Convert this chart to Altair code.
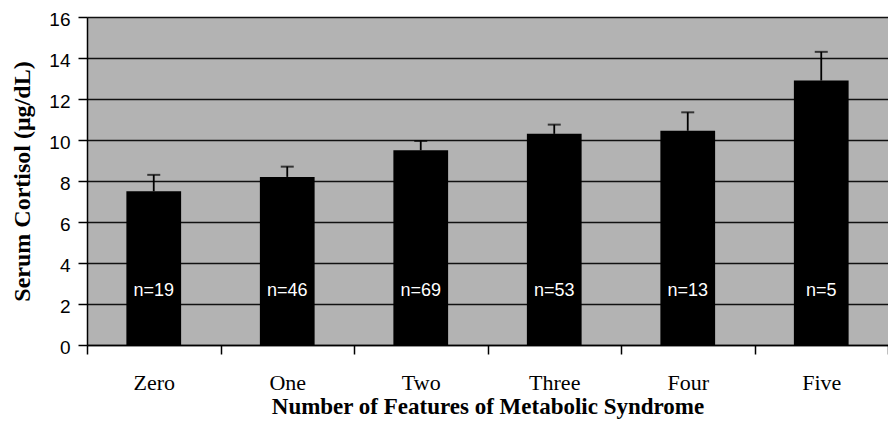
import altair as alt
import pandas as pd

categories = ["Zero", "One", "Two", "Three", "Four", "Five"]
means = [7.5, 8.2, 9.5, 10.3, 10.45, 12.9]
upper = [8.3, 8.7, 9.95, 10.75, 11.35, 14.3]
n_labels = ["n=19", "n=46", "n=69", "n=53", "n=13", "n=5"]

df = pd.DataFrame({"cat": categories, "mean": means, "upper": upper, "n": n_labels})

x_enc = alt.X(
    "cat:N",
    sort=categories,
    scale=alt.Scale(paddingInner=0, paddingOuter=0),
    axis=alt.Axis(
        title="Number of Features of Metabolic Syndrome",
        labelAngle=0,
        tickBand="extent",
        labelFont="Liberation Serif",
        labelFontSize=22,
        labelColor="black",
        labelPadding=18,
        tickSize=9,
        tickColor="black",
        tickWidth=1.5,
        domainColor="black",
        domainWidth=1.5,
        titleFont="Liberation Serif",
        titleFontSize=23,
        titleFontWeight="bold",
        titleColor="black",
        titlePadding=2,
        grid=False,
    ),
)

y_scale = alt.Scale(domain=[0, 16], nice=False, zero=True)
y_axis = alt.Axis(
    title="Serum Cortisol (μg/dL)",
    values=[0, 2, 4, 6, 8, 10, 12, 14, 16],
    labelFont="Liberation Sans",
    labelFontSize=19,
    labelColor="black",
    labelPadding=8,
    labelOffset=2,
    tickSize=9,
    tickColor="black",
    tickWidth=1.5,
    domainColor="black",
    domainWidth=1.5,
    grid=True,
    gridColor="#111111",
    gridWidth=1.6,
    titleFont="Liberation Serif",
    titleFontSize=24,
    titleFontWeight="bold",
    titleColor="black",
    titlePadding=14,
)

base = alt.Chart(df)

bars = base.mark_bar(color="black", width={"band": 0.41}).encode(
    x=x_enc,
    y=alt.Y("mean:Q", scale=y_scale, axis=y_axis),
)

err = base.mark_rule(color="black", strokeWidth=1.8).encode(
    x=x_enc,
    y=alt.Y("mean:Q", scale=y_scale, axis=y_axis),
    y2="upper:Q",
)

cap = base.mark_tick(color="black", thickness=2, size=13, orient="horizontal").encode(
    x=x_enc,
    y=alt.Y("upper:Q", scale=y_scale, axis=y_axis),
)

labels = base.mark_text(
    color="white", font="Liberation Sans", fontSize=18, baseline="middle", align="center"
).encode(
    x=x_enc,
    y=alt.datum(2.65, scale=y_scale),
    text="n:N",
)

chart = (
    alt.layer(bars, err, cap, labels)
    .properties(
        width=801,
        height=328,
        autosize=alt.AutoSizeParams(type="none"),
        padding={"left": 79, "top": 9, "right": 0, "bottom": 85},
        background="white",
    )
    .configure_view(fill="#b3b3b3", strokeWidth=0)
)

chart.save("out.html", embed_options={"renderer": "svg", "actions": False})
